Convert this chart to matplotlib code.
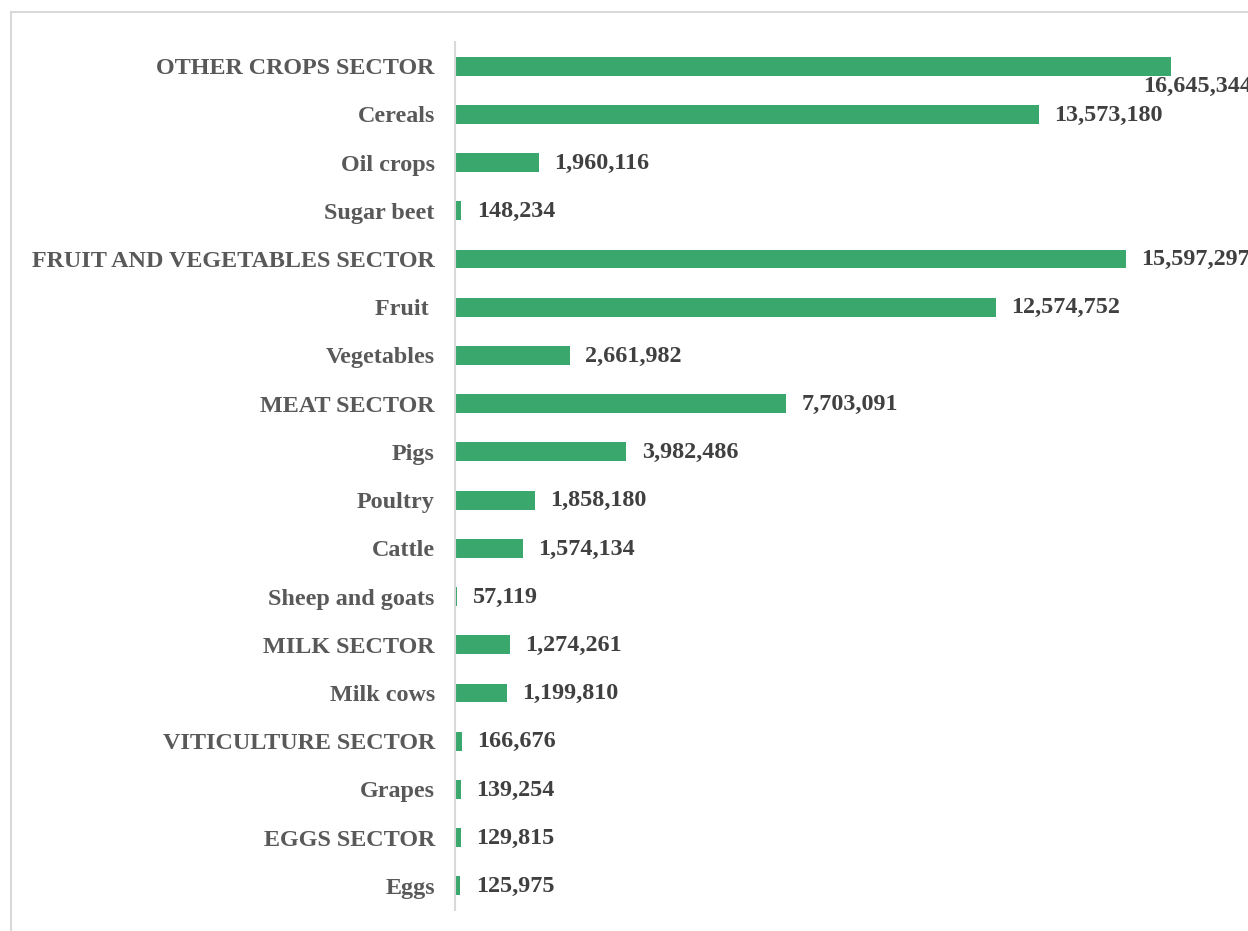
import matplotlib.pyplot as plt
from matplotlib.lines import Line2D

categories = [
    "OTHER CROPS SECTOR", "Cereals", "Oil crops", "Sugar beet",
    "FRUIT AND VEGETABLES SECTOR", "Fruit ", "Vegetables",
    "MEAT SECTOR", "Pigs", "Poultry", "Cattle", "Sheep and goats",
    "MILK SECTOR", "Milk cows", "VITICULTURE SECTOR", "Grapes",
    "EGGS SECTOR", "Eggs",
]
values = [
    16645344, 13573180, 1960116, 148234,
    15597297, 12574752, 2661982,
    7703091, 3982486, 1858180, 1574134, 57119,
    1274261, 1199810, 166676, 139254,
    129815, 125975,
]

GREEN = "#3AA76D"
LABEL_GREY = "#595959"
VALUE_GREY = "#404040"

plt.rcParams["font.family"] = ["Liberation Serif", "DejaVu Serif"]

fig = plt.figure(figsize=(12.48, 9.31), dpi=100)
ax = fig.add_axes([455 / 1248, 21 / 931, 1 - 455 / 1248, 868 / 931])

pos = list(range(len(categories)))
ax.barh(pos, values, height=0.39, color=GREEN)
ax.set_ylim(len(categories) - 0.5, -0.5)
ax.set_xlim(0, 18435000)

ax.set_yticks(pos)
ax.set_yticklabels(categories, fontsize=17.4, fontweight="bold", color=LABEL_GREY)
ax.tick_params(axis="y", length=0, pad=14.5)
ax.set_xticks([])

for s in ["top", "right", "bottom"]:
    ax.spines[s].set_visible(False)
ax.spines["left"].set_color("#D9D9D9")
ax.spines["left"].set_linewidth(1.5)

# value labels (the longest one does not fit and sits below the bar end)
for i, v in enumerate(values):
    if i == 0:
        off = (-20, -15)
    else:
        off = (11, -0.5)
    ax.annotate(f"{v:,}", xy=(v, i), xytext=off, textcoords="offset points",
                ha="left", va="center", fontsize=17.4, fontweight="bold",
                color=VALUE_GREY, annotation_clip=False)

# chart frame (left and top edges visible)
fig.add_artist(Line2D([11 / 1248, 11 / 1248], [0, 1 - 12 / 931],
                      transform=fig.transFigure, color="#D9D9D9", lw=1.5))
fig.add_artist(Line2D([11 / 1248, 1], [1 - 12 / 931, 1 - 12 / 931],
                      transform=fig.transFigure, color="#D9D9D9", lw=1.5))

fig.savefig("out.png", dpi=100)
